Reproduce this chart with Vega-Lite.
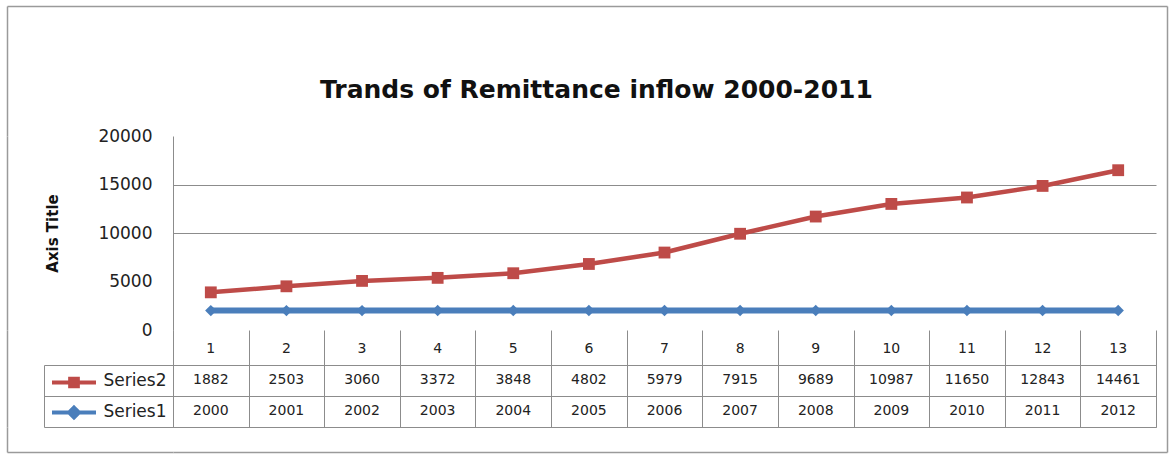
{
  "$schema": "https://vega.github.io/schema/vega-lite/v6.json",
  "autosize": {"type": "none"},
  "padding": {"left": 173, "top": 6, "right": 1001, "bottom": 452},
  "background": "white",
  "config": {"view": {"stroke": null}, "font": "DejaVu Sans"},
  "datasets": {
    "d": [
      {"idx": 1, "year": 2000, "remittance": 1882},
      {"idx": 2, "year": 2001, "remittance": 2503},
      {"idx": 3, "year": 2002, "remittance": 3060},
      {"idx": 4, "year": 2003, "remittance": 3372},
      {"idx": 5, "year": 2004, "remittance": 3848},
      {"idx": 6, "year": 2005, "remittance": 4802},
      {"idx": 7, "year": 2006, "remittance": 5979},
      {"idx": 8, "year": 2007, "remittance": 7915},
      {"idx": 9, "year": 2008, "remittance": 9689},
      {"idx": 10, "year": 2009, "remittance": 10987},
      {"idx": 11, "year": 2010, "remittance": 11650},
      {"idx": 12, "year": 2011, "remittance": 12843},
      {"idx": 13, "year": 2012, "remittance": 14461}
    ]
  },
  "spacing": 0,
  "bounds": "flush",
  "resolve": {"scale": {"color": "independent", "shape": "independent", "fill": "independent", "stroke": "independent", "strokeWidth": "independent", "size": "independent"}, "legend": {"color": "independent", "shape": "independent", "fill": "independent", "stroke": "independent", "strokeWidth": "independent", "size": "independent"}},
  "vconcat": [
    {
      "width": 994,
      "height": 130,
      "title": {"text": "Trands of Remittance inflow 2000-2011", "anchor": "start", "frame": "group", "dx": 147, "offset": -118, "baseline": "alphabetic", "fontSize": 25, "font": "DejaVu Sans", "fontWeight": "bold", "color": "#111111"},
      "data": {"values": []},
      "mark": {"type": "point", "opacity": 0},
      "encoding": {
        "y": {"datum": 0.5, "type": "quantitative", "scale": {"domain": [0, 1], "nice": false},
          "axis": {"orient": "left", "offset": 166, "values": [1], "tickSize": -1160, "tickColor": "#9a9a9a", "tickWidth": 1.5, "labels": false, "title": null, "grid": false, "domainColor": "#9a9a9a", "domainWidth": 1.5}}
      }
    },
    {
      "width": 983,
      "height": 194,
      "data": {"name": "d"},
      "transform": [{"fold": ["year", "remittance"], "as": ["key", "value"]}],
      "resolve": {"axis": {"y": "independent"}},
      "layer": [
        {
          "mark": {"type": "line"},
          "encoding": {
            "x": {"field": "idx", "type": "ordinal", "axis": null, "scale": {"type": "point", "padding": 0.5}},
            "y": {
              "field": "value", "type": "quantitative", "stack": "zero",
              "scale": {"domain": [0, 20000], "nice": false},
              "axis": {
                "orient": "left",
                "values": [0, 5000, 10000, 15000, 20000], "format": "d",
                "title": "Axis Title", "titleFontSize": 15, "titleFontWeight": "bold", "titleColor": "#111111", "titlePadding": 37, "titleFont": "DejaVu Sans",
                "labelFontSize": 17, "labelColor": "#222222", "labelPadding": 21, "labelFont": "DejaVu Sans",
                "ticks": false, "domainColor": "#8c8c8c",
                "grid": true,
                "gridColor": {"condition": {"test": "datum.value == 10000 || datum.value == 15000", "value": "#8c8c8c"}, "value": "rgba(0,0,0,0)"}
              }
            },
            "color": {"field": "key", "type": "nominal", "scale": {"domain": ["year", "remittance"], "range": ["#4A7EBB", "#BE4B48"]}, "legend": null},
            "strokeWidth": {"field": "key", "type": "nominal", "scale": {"domain": ["year", "remittance"], "range": [6, 4.5]}, "legend": null}
          }
        },
        {
          "mark": {"type": "point", "filled": true, "opacity": 1},
          "encoding": {
            "x": {"field": "idx", "type": "ordinal", "axis": null, "scale": {"type": "point", "padding": 0.5}},
            "y": {"field": "value", "type": "quantitative", "stack": "zero", "axis": null},
            "color": {"field": "key", "type": "nominal", "scale": {"domain": ["year", "remittance"], "range": ["#4A7EBB", "#BE4B48"]}, "legend": null},
            "shape": {"field": "key", "type": "nominal", "scale": {"domain": ["year", "remittance"], "range": ["diamond", "square"]}, "legend": null},
            "size": {"field": "key", "type": "nominal", "scale": {"domain": ["year", "remittance"], "range": [130, 140]}, "legend": null}
          }
        },
        {
          "data": {"values": []},
          "mark": {"type": "point", "opacity": 0},
          "encoding": {
            "y": {"datum": 0, "type": "quantitative",
              "axis": {"orient": "left", "offset": 166, "labels": false, "ticks": false, "title": null, "grid": false, "domainColor": "#9a9a9a", "domainWidth": 1.5}}
          }
        }
      ]
    },
    {
      "width": 983,
      "height": 97,
      "data": {"name": "d"},
      "encoding": {
        "x": {"field": "idx", "type": "ordinal", "scale": {"type": "band", "paddingInner": 0, "paddingOuter": 0},
          "axis": {"orient": "bottom", "labels": false, "ticks": false, "title": null, "domainColor": "#8c8c8c", "grid": true, "gridColor": "#8c8c8c", "tickBand": "extent"}}
      },
      "resolve": {"axis": {"y": "independent"}},
      "layer": [
        {
          "mark": {"type": "text", "fontSize": 14, "color": "#222222", "baseline": "middle", "align": "center"},
          "encoding": {
            "text": {"field": "idx", "type": "nominal"},
            "y": {"datum": "h", "type": "nominal", "scale": {"type": "band", "domain": ["h", "Series2", "Series1"], "paddingInner": 0, "paddingOuter": 0.0645, "align": 1},
              "axis": {"orient": "left", "title": null, "values": ["Series2", "Series1"], "tickBand": "extent", "tickSize": 129, "tickColor": "#8c8c8c",
                "domainColor": "#8c8c8c", "labelPadding": -122, "labelAlign": "right", "labelBaseline": "middle", "labelFontSize": 17, "labelColor": "#222222", "grid": true, "gridColor": "#8c8c8c"}}
          }
        },
        {
          "mark": {"type": "text", "fontSize": 14, "color": "#222222", "baseline": "middle", "align": "center"},
          "encoding": {
            "text": {"field": "remittance", "type": "nominal"},
            "y": {"datum": "Series2", "type": "nominal",
              "axis": {"orient": "left", "offset": 166, "labels": false, "ticks": false, "title": null, "grid": false, "domainColor": "#9a9a9a", "domainWidth": 1.5}}
          }
        },
        {
          "mark": {"type": "text", "fontSize": 14, "color": "#222222", "baseline": "middle", "align": "center"},
          "encoding": {
            "text": {"field": "year", "type": "nominal"},
            "y": {"datum": "Series1", "type": "nominal", "axis": null}
          }
        },
        {
          "mark": {"type": "point", "filled": true, "opacity": 0},
          "encoding": {
            "y": {"datum": "Series1", "type": "nominal",
              "axis": {"orient": "left", "offset": 129, "title": null, "labels": false, "ticks": false, "grid": false, "domainColor": "#8c8c8c", "domainDash": [0, 35, 62, 0]}},
            "fill": {"datum": "Series2", "type": "nominal", "scale": {"domain": ["Series2", "Series1"], "range": ["#BE4B48", "#4A7EBB"]},
              "legend": {"orient": "none", "legendX": -112, "legendY": 39.5, "title": null, "labelExpr": "''", "symbolSize": 484, "symbolStrokeWidth": 4, "symbolOpacity": 1, "rowPadding": 5, "padding": 0, "direction": "vertical"}},
            "stroke": {"datum": "Series2", "type": "nominal", "scale": {"domain": ["Series2", "Series1"], "range": ["#BE4B48", "#4A7EBB"]},
              "legend": {"orient": "none", "legendX": -112, "legendY": 39.5, "title": null, "labelExpr": "''", "symbolSize": 484, "symbolStrokeWidth": 4, "symbolOpacity": 1, "rowPadding": 5, "padding": 0, "direction": "vertical"}},
            "shape": {"datum": "Series2", "type": "nominal", "scale": {"domain": ["Series2", "Series1"], "range": ["M-2,0H2M-0.35,-0.35H0.35V0.35H-0.35Z", "M-2,0H2M0,-0.45L0.45,0L0,0.45L-0.45,0Z"]},
              "legend": {"orient": "none", "legendX": -112, "legendY": 39.5, "title": null, "labelExpr": "''", "symbolSize": 484, "symbolStrokeWidth": 4, "symbolOpacity": 1, "rowPadding": 5, "padding": 0, "direction": "vertical"}}
          }
        }
      ]
    },
    {
      "width": 994,
      "height": 25,
      "data": {"values": []},
      "mark": {"type": "point", "opacity": 0},
      "encoding": {
        "x": {"datum": 0.5, "type": "quantitative", "scale": {"domain": [0, 1], "nice": false},
          "axis": {"orient": "bottom", "values": [1], "tickSize": -446, "tickColor": "#9a9a9a", "tickWidth": 1.5, "labels": false, "title": null, "grid": false, "domainColor": "#9a9a9a", "domainWidth": 1.5}},
        "y": {"datum": 0.5, "type": "quantitative", "scale": {"domain": [0, 1], "nice": false},
          "axis": {"orient": "left", "offset": 166, "values": [0], "tickSize": -166, "tickColor": "#9a9a9a", "tickWidth": 1.5, "labels": false, "title": null, "grid": false, "domainColor": "#9a9a9a", "domainWidth": 1.5}}
      }
    }
  ]
}
